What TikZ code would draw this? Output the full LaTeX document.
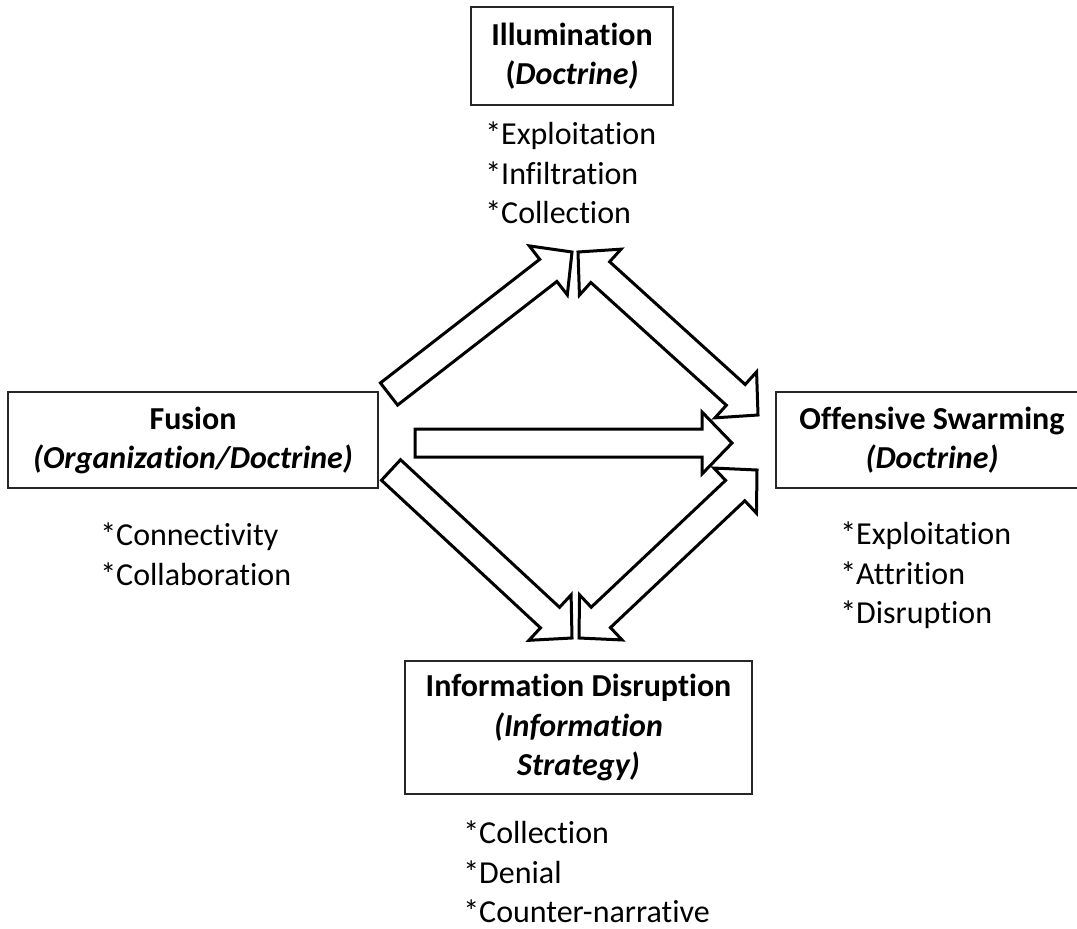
\documentclass[tikz,border=0pt]{standalone}
\usepackage{fontspec}
\setmainfont[Ligatures=NoCommon]{Carlito}
\usetikzlibrary{calc}
\tikzset{
  box/.style={draw=black!85, line width=0.9pt, align=center, inner sep=0pt,
    font=\fontsize{24}{29.3}\selectfont},
  listtxt/.style={align=left, inner sep=0pt, anchor=north west,
    font=\fontsize{24}{29.3}\selectfont},
  barrow/.style={draw=black, fill=white, line width=2.25pt, line join=miter, miter limit=10}
}
\newcommand\shaftw{10.5pt}
\newcommand\headw{23.25pt}
\newcommand\headl{22.5pt}
\newcommand\onearrow[2]{%
  \coordinate (#1b) at ($(#2)!\headl!(#1)$);
  \draw[barrow] ($(#1)!\shaftw!90:(#2)$) -- ($(#1b)!\shaftw!90:(#2)$)
    -- ($(#1b)!\headw!90:(#2)$) -- (#2) -- ($(#1b)!\headw!-90:(#2)$)
    -- ($(#1b)!\shaftw!-90:(#2)$) -- ($(#1)!\shaftw!-90:(#2)$) -- cycle;}
\newcommand\twoarrow[2]{%
  \coordinate (#1b) at ($(#1)!\headl!(#2)$);
  \coordinate (#2b) at ($(#2)!\headl!(#1)$);
  \draw[barrow] (#1) -- ($(#1b)!\headw!90:(#2)$) -- ($(#1b)!\shaftw!90:(#2)$)
    -- ($(#2b)!\shaftw!-90:(#1)$) -- ($(#2b)!\headw!-90:(#1)$) -- (#2)
    -- ($(#2b)!\headw!90:(#1)$) -- ($(#2b)!\shaftw!90:(#1)$)
    -- ($(#1b)!\shaftw!-90:(#2)$) -- ($(#1b)!\headw!-90:(#2)$) -- cycle;}
\begin{document}
\begin{tikzpicture}[x=0.75pt, y=-0.75pt]
  \useasboundingbox (0,0) rectangle (1077,928);
  \fill[white] (0,0) rectangle (1077,928);
  \clip (0,0) rectangle (1077,928);

  % boxes
  \node[box, minimum width=151.5pt, minimum height=73.5pt] (illum) at (572,56)
    {\textbf{Illumination}\\\textbf{(\textit{Doctrine)}}};
  \node[box, minimum width=277.5pt, minimum height=72pt] (fusion) at (193,440)
    {\textbf{Fusion}\\\textbf{\textit{(Organization/Doctrine)}}};
  \node[box, minimum width=234pt, minimum height=72pt] (offense) at (932,440)
    {\textbf{Offensive Swarming}\\\textbf{\textit{(Doctrine)}}};
  \node[box, minimum width=260.25pt, minimum height=99.75pt] (info) at (578.5,727.5)
    {\textbf{Information Disruption}\\\textbf{\textit{(Information}}\\\textbf{\textit{Strategy)}}};

  % lists
  \node[listtxt] (illumlist) at (485,122) {*Exploitation\\*Infiltration\\*Collection};
  \node[listtxt] (fusionlist) at (100,523) {*Connectivity\\*Collaboration};
  \node[listtxt] (offlist) at (840,522) {*Exploitation\\*Attrition\\*Disruption};
  \node[listtxt] (infolist) at (463,821) {*Collection\\*Denial\\*Counter-narrative};

  % arrow end points
  \coordinate (a1s) at (389,394);
  \coordinate (a1e) at (572,252);
  \coordinate (a2s) at (578,252);
  \coordinate (a2e) at (758,415);
  \coordinate (a3s) at (415,443);
  \coordinate (a3e) at (732,443);
  \coordinate (a4s) at (391,470);
  \coordinate (a4e) at (572,638);
  \coordinate (a5s) at (579,638);
  \coordinate (a5e) at (757,470);

  \onearrow{a1s}{a1e}
  \twoarrow{a2s}{a2e}
  \onearrow{a3s}{a3e}
  \onearrow{a4s}{a4e}
  \twoarrow{a5s}{a5e}
\end{tikzpicture}
\end{document}
